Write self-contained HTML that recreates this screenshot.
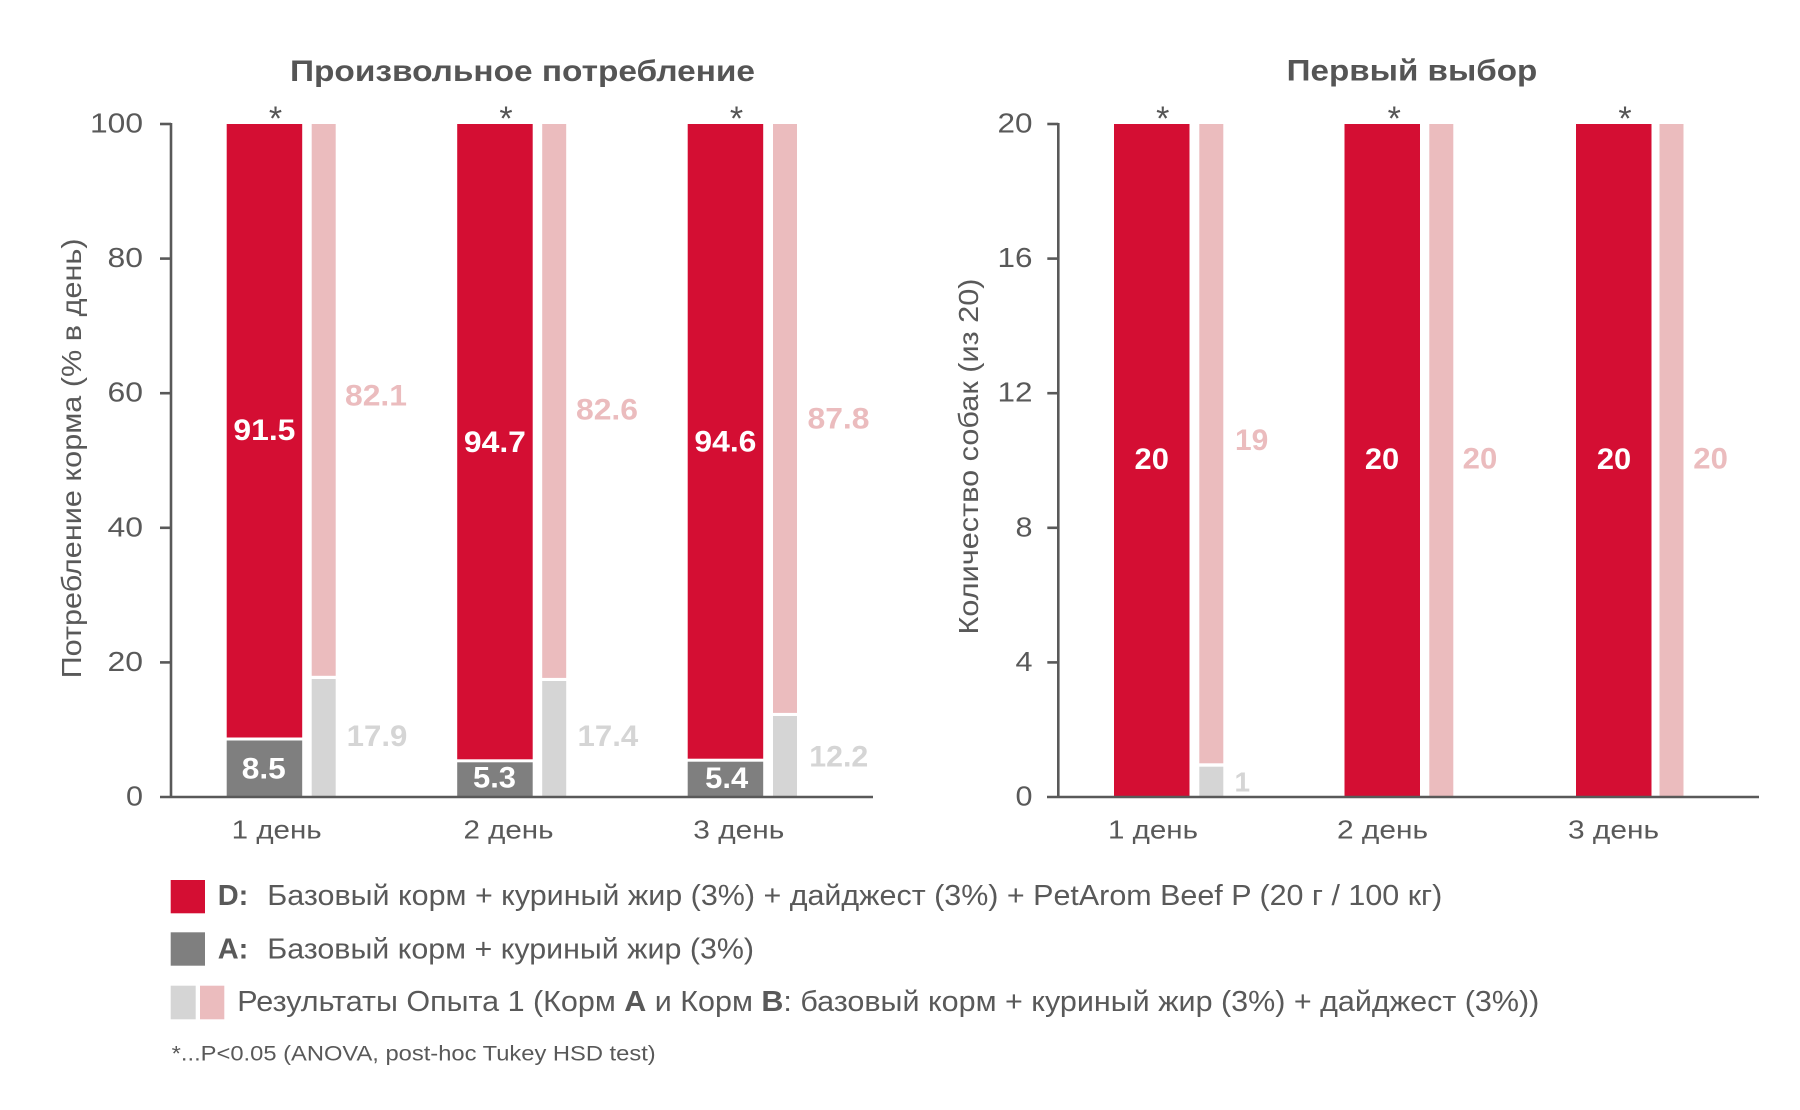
<!DOCTYPE html>
<html><head><meta charset="utf-8"><style>
html,body{margin:0;padding:0;background:#fff;}
svg{display:block;}
text{font-family:"Liberation Sans","DejaVu Sans",sans-serif;}
</style></head><body>
<svg width="1800" height="1110" viewBox="0 0 1800 1110" xmlns="http://www.w3.org/2000/svg">
<rect width="1800" height="1110" fill="#fff"/>

<!-- ===== LEFT CHART ===== -->
<text x="290" y="81" font-size="30" font-weight="bold" fill="#555" textLength="465" lengthAdjust="spacingAndGlyphs">Произвольное потребление</text>

<!-- bars -->
<g>
  <rect x="226.7" y="124" width="75.5" height="613.5" fill="#D40E33"/>
  <rect x="226.7" y="740.5" width="75.5" height="56.5" fill="#7F7F7F"/>
  <rect x="311.7" y="124" width="24" height="551.8" fill="#EBBCBE"/>
  <rect x="311.7" y="679" width="24" height="118" fill="#D5D5D5"/>

  <rect x="457.2" y="124" width="75.5" height="635.3" fill="#D40E33"/>
  <rect x="457.2" y="762.3" width="75.5" height="34.7" fill="#7F7F7F"/>
  <rect x="542.2" y="124" width="24" height="553.9" fill="#EBBCBE"/>
  <rect x="542.2" y="681" width="24" height="116" fill="#D5D5D5"/>

  <rect x="687.7" y="124" width="75.5" height="634.7" fill="#D40E33"/>
  <rect x="687.7" y="761.7" width="75.5" height="35.3" fill="#7F7F7F"/>
  <rect x="773" y="124" width="24" height="588.9" fill="#EBBCBE"/>
  <rect x="773" y="716" width="24" height="81" fill="#D5D5D5"/>
</g>

<!-- axes -->
<g stroke="#595959" stroke-width="2.6" fill="none">
  <line x1="171" y1="123" x2="171" y2="797"/>
  <line x1="160" y1="797" x2="873" y2="797"/>
  <line x1="160" y1="124" x2="171" y2="124"/>
  <line x1="160" y1="258.6" x2="171" y2="258.6"/>
  <line x1="160" y1="393.2" x2="171" y2="393.2"/>
  <line x1="160" y1="527.8" x2="171" y2="527.8"/>
  <line x1="160" y1="662.4" x2="171" y2="662.4"/>
</g>
<g font-size="28" fill="#595959" text-anchor="end">
  <text x="143" y="132.5" textLength="53" lengthAdjust="spacingAndGlyphs">100</text>
  <text x="143" y="267.1" textLength="35.5" lengthAdjust="spacingAndGlyphs">80</text>
  <text x="143" y="401.7" textLength="35.5" lengthAdjust="spacingAndGlyphs">60</text>
  <text x="143" y="536.3" textLength="35.5" lengthAdjust="spacingAndGlyphs">40</text>
  <text x="143" y="670.9" textLength="35.5" lengthAdjust="spacingAndGlyphs">20</text>
  <text x="143" y="805.5" textLength="17" lengthAdjust="spacingAndGlyphs">0</text>
</g>
<text transform="translate(81,458.4) rotate(-90)" text-anchor="middle" font-size="28" fill="#595959" textLength="440" lengthAdjust="spacingAndGlyphs">Потребление корма (% в день)</text>

<!-- asterisks -->
<g font-size="34" fill="#555" text-anchor="middle">
  <text x="275.5" y="130">*</text>
  <text x="506" y="130">*</text>
  <text x="736.5" y="130">*</text>
</g>

<!-- value labels -->
<g font-size="30" font-weight="bold" text-anchor="middle" fill="#fff">
  <text x="264.4" y="440" textLength="62" lengthAdjust="spacingAndGlyphs">91.5</text>
  <text x="494.9" y="451.8" textLength="62" lengthAdjust="spacingAndGlyphs">94.7</text>
  <text x="725.4" y="451.5" textLength="62" lengthAdjust="spacingAndGlyphs">94.6</text>
  <text x="263.8" y="778.3" textLength="44" lengthAdjust="spacingAndGlyphs">8.5</text>
  <text x="494.5" y="787.3" textLength="43" lengthAdjust="spacingAndGlyphs">5.3</text>
  <text x="726.7" y="788" textLength="43" lengthAdjust="spacingAndGlyphs">5.4</text>
</g>
<g font-size="30" font-weight="bold" fill="#EBBCBE">
  <text x="345" y="405.4" textLength="62" lengthAdjust="spacingAndGlyphs">82.1</text>
  <text x="576" y="419.6" textLength="62" lengthAdjust="spacingAndGlyphs">82.6</text>
  <text x="807.5" y="428.6" textLength="62" lengthAdjust="spacingAndGlyphs">87.8</text>
</g>
<g font-size="30" font-weight="bold" fill="#D5D5D5">
  <text x="346.7" y="746" textLength="60.7" lengthAdjust="spacingAndGlyphs">17.9</text>
  <text x="577.5" y="746" textLength="60.7" lengthAdjust="spacingAndGlyphs">17.4</text>
  <text x="809.3" y="766.7" textLength="59" lengthAdjust="spacingAndGlyphs">12.2</text>
</g>

<!-- x labels -->
<g font-size="26" fill="#595959" text-anchor="middle">
  <text x="276.7" y="838.3" textLength="90" lengthAdjust="spacingAndGlyphs">1 день</text>
  <text x="508.5" y="838.3" textLength="90" lengthAdjust="spacingAndGlyphs">2 день</text>
  <text x="738.8" y="838.3" textLength="91" lengthAdjust="spacingAndGlyphs">3 день</text>
</g>

<!-- ===== RIGHT CHART ===== -->
<text x="1286.7" y="80.7" font-size="30" font-weight="bold" fill="#555" textLength="250.6" lengthAdjust="spacingAndGlyphs">Первый выбор</text>

<g>
  <rect x="1114" y="124" width="75.5" height="673" fill="#D40E33"/>
  <rect x="1199.3" y="124" width="24" height="639.3" fill="#EBBCBE"/>
  <rect x="1199.3" y="766.7" width="24" height="30.3" fill="#D5D5D5"/>

  <rect x="1344.5" y="124" width="75.5" height="673" fill="#D40E33"/>
  <rect x="1429.3" y="124" width="24" height="673" fill="#EBBCBE"/>

  <rect x="1576" y="124" width="75.5" height="673" fill="#D40E33"/>
  <rect x="1659.5" y="124" width="24" height="673" fill="#EBBCBE"/>
</g>

<g stroke="#595959" stroke-width="2.6" fill="none">
  <line x1="1058.3" y1="123" x2="1058.3" y2="797"/>
  <line x1="1047" y1="797" x2="1759" y2="797"/>
  <line x1="1047.3" y1="124" x2="1058.3" y2="124"/>
  <line x1="1047.3" y1="258.6" x2="1058.3" y2="258.6"/>
  <line x1="1047.3" y1="393.2" x2="1058.3" y2="393.2"/>
  <line x1="1047.3" y1="527.8" x2="1058.3" y2="527.8"/>
  <line x1="1047.3" y1="662.4" x2="1058.3" y2="662.4"/>
</g>
<g font-size="28" fill="#595959" text-anchor="end">
  <text x="1032.5" y="132.5" textLength="35" lengthAdjust="spacingAndGlyphs">20</text>
  <text x="1032.5" y="267.1" textLength="35" lengthAdjust="spacingAndGlyphs">16</text>
  <text x="1032.5" y="401.7" textLength="35" lengthAdjust="spacingAndGlyphs">12</text>
  <text x="1032.5" y="536.3" textLength="17" lengthAdjust="spacingAndGlyphs">8</text>
  <text x="1032.5" y="670.9" textLength="17" lengthAdjust="spacingAndGlyphs">4</text>
  <text x="1032.5" y="805.5" textLength="17" lengthAdjust="spacingAndGlyphs">0</text>
</g>
<text transform="translate(978,456.5) rotate(-90)" text-anchor="middle" font-size="28" fill="#595959" textLength="356" lengthAdjust="spacingAndGlyphs">Количество собак (из 20)</text>

<g font-size="34" fill="#555" text-anchor="middle">
  <text x="1162.7" y="130">*</text>
  <text x="1394.3" y="130">*</text>
  <text x="1625" y="130">*</text>
</g>

<g font-size="30" font-weight="bold" text-anchor="middle" fill="#fff">
  <text x="1151.7" y="469" textLength="34.3" lengthAdjust="spacingAndGlyphs">20</text>
  <text x="1382" y="469" textLength="34.3" lengthAdjust="spacingAndGlyphs">20</text>
  <text x="1614" y="469" textLength="34.3" lengthAdjust="spacingAndGlyphs">20</text>
</g>
<g font-size="30" font-weight="bold" fill="#EBBCBE">
  <text x="1235" y="450" textLength="33.3" lengthAdjust="spacingAndGlyphs">19</text>
  <text x="1462.7" y="468.5" textLength="34.6" lengthAdjust="spacingAndGlyphs">20</text>
  <text x="1693.3" y="468.5" textLength="34.6" lengthAdjust="spacingAndGlyphs">20</text>
</g>
<text x="1234.5" y="791.7" font-size="28" font-weight="bold" fill="#D5D5D5">1</text>

<g font-size="26" fill="#595959" text-anchor="middle">
  <text x="1153" y="838.3" textLength="90" lengthAdjust="spacingAndGlyphs">1 день</text>
  <text x="1382.5" y="838.3" textLength="91" lengthAdjust="spacingAndGlyphs">2 день</text>
  <text x="1613.5" y="838.3" textLength="91" lengthAdjust="spacingAndGlyphs">3 день</text>
</g>

<!-- ===== LEGEND ===== -->
<rect x="170.7" y="880" width="34.3" height="33.3" fill="#D40E33"/>
<text x="217.7" y="905" font-size="29" font-weight="bold" fill="#595959">D:</text>
<text x="267.3" y="905" font-size="29" fill="#595959" textLength="1175" lengthAdjust="spacingAndGlyphs">Базовый корм + куриный жир (3%) + дайджест (3%) + PetArom Beef P (20 г / 100 кг)</text>

<rect x="170.7" y="932.3" width="34.3" height="33.4" fill="#7F7F7F"/>
<text x="217.7" y="958.3" font-size="29" font-weight="bold" fill="#595959">A:</text>
<text x="267.3" y="958.3" font-size="29" fill="#595959" textLength="486.7" lengthAdjust="spacingAndGlyphs">Базовый корм + куриный жир (3%)</text>

<rect x="170.7" y="985.7" width="25" height="33.6" fill="#D5D5D5"/>
<rect x="200" y="985.7" width="24.3" height="33.6" fill="#EBBCBE"/>
<text x="237.3" y="1011" font-size="29" fill="#595959" textLength="1302" lengthAdjust="spacingAndGlyphs">Результаты Опыта 1 (Корм <tspan font-weight="bold">A</tspan> и Корм <tspan font-weight="bold">B</tspan>: базовый корм + куриный жир (3%) + дайджест (3%))</text>

<text x="171.7" y="1060.7" font-size="21" fill="#595959" textLength="484" lengthAdjust="spacingAndGlyphs">*...P&lt;0.05 (ANOVA, post-hoc Tukey HSD test)</text>
</svg>
</body></html>
